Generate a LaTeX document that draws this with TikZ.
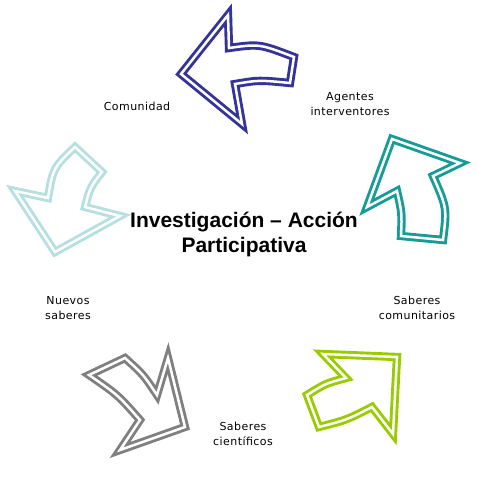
\documentclass[tikz,border=0pt]{standalone}
\usepackage{fontspec}
\setmainfont{DejaVu Sans}[LetterSpace=4]
\newfontfamily\titlefont{Liberation Sans}
\definecolor{cblue}{HTML}{333399}
\definecolor{cteal}{HTML}{159C97}
\definecolor{cgreen}{HTML}{99CC00}
\definecolor{cgray}{HTML}{808080}
\definecolor{clight}{HTML}{B5DFE1}
\begin{document}
\begin{tikzpicture}[x=1pt,y=-1pt,
  arrowshape/.style={line width=2.9pt, double=white, double distance=2.5pt, line join=miter},
  lbl/.style={font=\fontsize{11}{15}\selectfont, align=center, inner sep=0pt},
  ttl/.style={font=\titlefont\bfseries\fontsize{21}{25}\selectfont, align=center, inner sep=0pt}]
\useasboundingbox (0,0) rectangle (479,480);
% top (blue)
\draw[arrowshape, draw=cblue] (181,74) -- (228,15) -- (229,48) .. controls (259.5,43.8) .. (294,57) -- (290,83) .. controls (259,80) .. (235,84) -- (242,124) -- cycle;
% right (teal)
\draw[arrowshape, draw=cteal] (392,139) -- (460,163) -- (433,176) .. controls (447,208) .. (443,240) -- (401,236) .. controls (402,213) .. (397,191) -- (367,207) -- cycle;
% bottom right (green)
\draw[arrowshape, draw=cgreen] (323,354) -- (397,357) -- (393,434) -- (372,407) .. controls (346.5,420) .. (319,427) -- (307,395) .. controls (325.5,383.5) .. (346,378) -- cycle;
% bottom left (gray)
\draw[arrowshape, draw=cgray] (89,375) -- (125,358) .. controls (143.3,374.5) .. (157,395) -- (168,358) -- (185,427) -- (120,450) -- (140,420) .. controls (118,395) .. (89,375) -- cycle;
% left (light blue)
\draw[arrowshape, draw=clight] (75,147) -- (102,172) .. controls (90,187.6) .. (85,207) -- (120,216) -- (55,252) -- (15,191) -- (48,198) .. controls (53,168) .. (75,147) -- cycle;
% labels
\node[lbl] (com) at (137,106) {Comunidad};
\node[lbl] (age) at (350,104.5) {Agentes\\interventores};
\node[lbl] (sco) at (417,307.5) {Saberes\\comunitarios};
\node[lbl] (nue) at (68,308.5) {Nuevos\\saberes};
\node[lbl] (sci) at (243,434) {Saberes\\científicos};
\node[ttl] (iap) at (244,234.5) {Investigación – Acción\\Participativa};
\end{tikzpicture}
\end{document}
